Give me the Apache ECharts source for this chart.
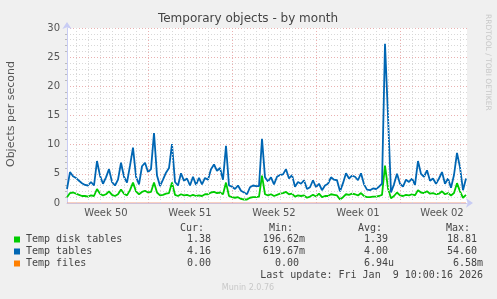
<!DOCTYPE html>
<html><head><meta charset="utf-8">
<script src="https://cdn.jsdelivr.net/npm/echarts@6/dist/echarts.min.js"></script>
<style>html,body{margin:0;padding:0;background:#f0f0f0;}#c{width:497px;height:299px;}</style>
</head><body><div id="c"></div>
<script>
// ---- data ----
const STEP_HOURS = 6; // one sample every 6 hours
const diskTables = [
1.0,1.7,1.8,1.6,1.4,1.2,1.2,1.1,1.3,1.2,
2.4,1.6,1.3,1.5,2.0,1.4,1.2,1.5,2.3,1.6,
1.3,2.2,3.5,2.0,1.5,1.9,2.1,1.8,1.9,3.5,
1.8,1.3,1.4,1.6,1.7,3.5,1.4,1.2,1.5,1.3,
1.4,1.2,1.4,1.2,1.3,1.2,1.5,1.5,1.8,1.9,
1.7,1.8,1.5,3.5,1.2,1.0,0.9,1.0,0.7,0.6,
0.6,0.9,1.0,1.0,1.1,4.7,1.5,1.3,1.5,1.2,
1.4,1.6,1.7,1.9,1.5,1.6,1.1,1.3,1.2,1.3,
0.9,1.1,1.4,1.1,1.6,1.0,1.2,1.2,1.5,1.4,
1.3,0.6,1.0,1.5,1.4,1.6,1.5,1.3,1.7,1.2,
1.0,1.0,1.1,1.1,1.2,1.4,6.4,2.5,0.8,1.2,
1.8,1.3,1.2,1.4,1.3,1.5,1.3,2.2,1.8,1.7,
2.0,1.6,1.7,1.5,1.6,2.0,1.5,1.7,1.3,1.7,
3.4,2.0,0.9,1.4];
const tempTables = [
2.4,5.3,4.6,4.3,3.8,3.4,3.1,3.0,3.6,3.0,
7.2,4.7,3.3,4.4,5.8,3.6,3.0,4.0,6.9,4.5,
3.5,6.4,9.5,4.5,3.2,6.3,6.9,5.3,5.8,12.0,
4.7,2.9,4.0,5.2,6.0,10.1,3.6,3.0,5.1,3.8,
4.2,3.0,4.5,3.1,4.3,3.2,4.3,4.0,5.8,6.6,
5.5,6.0,4.0,9.8,3.0,2.8,2.4,3.0,2.1,1.8,
1.5,2.7,3.0,2.9,2.9,11.0,4.4,3.7,4.4,3.2,
4.5,4.8,4.9,5.8,4.2,4.8,2.8,3.6,3.3,3.9,
2.4,2.7,3.9,2.7,3.3,2.2,3.0,3.3,4.4,4.0,
3.9,2.0,3.4,5.1,4.2,4.7,4.5,3.9,5.1,3.2,
2.3,2.2,2.5,2.4,2.8,3.3,27.3,14.9,1.8,3.2,
5.0,3.3,2.8,4.0,3.6,4.2,3.1,7.2,5.0,4.5,
5.6,3.8,4.2,3.3,4.2,5.3,3.3,4.2,2.6,4.8,
8.6,6.1,2.2,4.2];
const tempFilesHours = [0, 798];
const tempFiles = [0, 0];

const weekLabels = ['Week 50','Week 51','Week 52','Week 01','Week 02'];
const weekCenterHours = [78, 246, 414, 582, 750];
const weekBoundaryHours = [162, 330, 498, 666];
const firstDayLineHour = 18;
const X_MAX = 800;

const legendNames = ['Temp disk tables','Temp tables','Temp files'];
const legendCur = ['1.38','4.16','0.00'];
const legendMin = ['196.62m','619.67m','0.00'];
const legendAvg = ['1.39','4.00','6.94u'];
const legendMax = ['18.81','54.60','6.58m'];
const colors = ['#00cc00','#0066b3','#ff8000'];

// ---- build ----
const toPairs = arr => arr.map((v,i)=>[i*STEP_HOURS, v]);
const dayLines = [];
for (let h = firstDayLineHour; h < X_MAX; h += 24) {
  if (weekBoundaryHours.indexOf(h) < 0) dayLines.push({xAxis: h});
}
const chart = echarts.init(document.getElementById('c'), null, {renderer:'canvas'});
const mono = 'DejaVu Sans Mono';
const g = [];
g.push({type:'text', left: null, x: 248, y: 19, style:{text:'Temporary objects - by month', fill:'#444', font:'12px "DejaVu Sans"', textAlign:'center', textVerticalAlign:'middle'}});
g.push({type:'text', x: 11, y: 114, rotation: Math.PI/2, style:{text:'Objects per second', fill:'#555', font:'11px "DejaVu Sans"', textAlign:'center', textVerticalAlign:'middle'}});
g.push({type:'text', x: 488, y: 14, rotation: -Math.PI/2, style:{text:'RRDTOOL / TOBI OETIKER', fill:'#c8c8c8', font:'7.5px "DejaVu Sans"', textAlign:'left', textVerticalAlign:'middle'}});
const hdrY = 228, rowY = [239.5, 251.5, 263.5];
const hdr = [['Cur:',204],['Min:',293],['Avg:',382],['Max:',470]];
hdr.forEach(h=>g.push({type:'text', x:h[1], y:hdrY, style:{text:h[0], fill:'#444', font:'10px '+mono, textAlign:'right', textVerticalAlign:'middle'}}));
legendNames.forEach((n,i)=>{
  g.push({type:'rect', shape:{x:14, y:rowY[i]-3, width:6, height:6}, style:{fill:colors[i]}});
  g.push({type:'text', x:26, y:rowY[i], style:{text:n, fill:'#444', font:'10px '+mono, textAlign:'left', textVerticalAlign:'middle'}});
  const cols = [[legendCur[i],211],[legendMin[i], i==2?299:305],[legendAvg[i], i==2?394:388],[legendMax[i], i==2?483:477]];
  cols.forEach(c=>g.push({type:'text', x:c[1], y:rowY[i], style:{text:c[0], fill:'#444', font:'10px '+mono, textAlign:'right', textVerticalAlign:'middle'}}));
});
g.push({type:'text', x:483, y:275.5, style:{text:'Last update: Fri Jan  9 10:00:16 2026', fill:'#444', font:'10px '+mono, textAlign:'right', textVerticalAlign:'middle'}});
g.push({type:'text', x:248, y:288, style:{text:'Munin 2.0.76', fill:'#c8c8c8', font:'8px "DejaVu Sans"', textAlign:'center', textVerticalAlign:'middle'}});

chart.setOption({
  animation:false,
  backgroundColor:'#f0f0f0',
  grid:{left:67, right:30, top:28, bottom:96, show:true, backgroundColor:'#ffffff', borderWidth:0},
  xAxis:{type:'value', min:0, max:X_MAX,
    axisLine:{show:true, lineStyle:{color:'#c8ccf4', width:1}, symbol:['none','arrow'], symbolSize:[7,7], symbolOffset:[0,6]},
    axisTick:{show:false}, splitLine:{show:false},
    axisLabel:{customValues: weekCenterHours, formatter:(v)=>weekLabels[weekCenterHours.indexOf(v)]||'', color:'#555', fontSize:10, fontFamily:'DejaVu Sans', margin:5}
  },
  yAxis:{type:'value', min:0, max:30, interval:5,
    axisLine:{show:true, onZero:false, lineStyle:{color:'#c8ccf4', width:1}, symbol:['none','arrow'], symbolSize:[7,7], symbolOffset:[0,6]},
    axisTick:{show:false},
    minorTick:{show:true, splitNumber:5, length:2, lineStyle:{color:'#bbbbbb'}},
    axisLabel:{color:'#555', fontSize:10, fontFamily:'DejaVu Sans', margin:7},
    splitLine:{show:true, lineStyle:{color:'#eab0b0', type:[1,2], width:1}},
    minorSplitLine:{show:true, lineStyle:{color:'#d8d8d8', type:[1,2], width:1}}
  },
  graphic:g,
  series:[
    {type:'line', data:[], z:1, silent:true,
     markLine:{silent:true, symbol:['none','none'], label:{show:false}, animation:false,
       lineStyle:{color:'#d8d8d8', type:[1,2], width:1}, data:dayLines}},
    {type:'line', data:[], z:1, silent:true,
     markLine:{silent:true, symbol:['none','none'], label:{show:false}, animation:false,
       lineStyle:{color:'#eab0b0', type:[1,2], width:1}, data:weekBoundaryHours.map(h=>({xAxis:h}))}},
    {name:legendNames[0], type:'line', data:toPairs(diskTables), showSymbol:false, z:3, lineStyle:{color:colors[0], width:1.8}, itemStyle:{color:colors[0]}},
    {name:legendNames[1], type:'line', data:toPairs(tempTables), showSymbol:false, z:3, lineStyle:{color:colors[1], width:1.8}, itemStyle:{color:colors[1]}},
    {name:legendNames[2], type:'line', data:tempFiles.map((v,i)=>[tempFilesHours[i],v]), showSymbol:false, z:3, lineStyle:{color:'#f0a080', width:1}, itemStyle:{color:colors[2]}}
  ]
});
</script></body></html>
